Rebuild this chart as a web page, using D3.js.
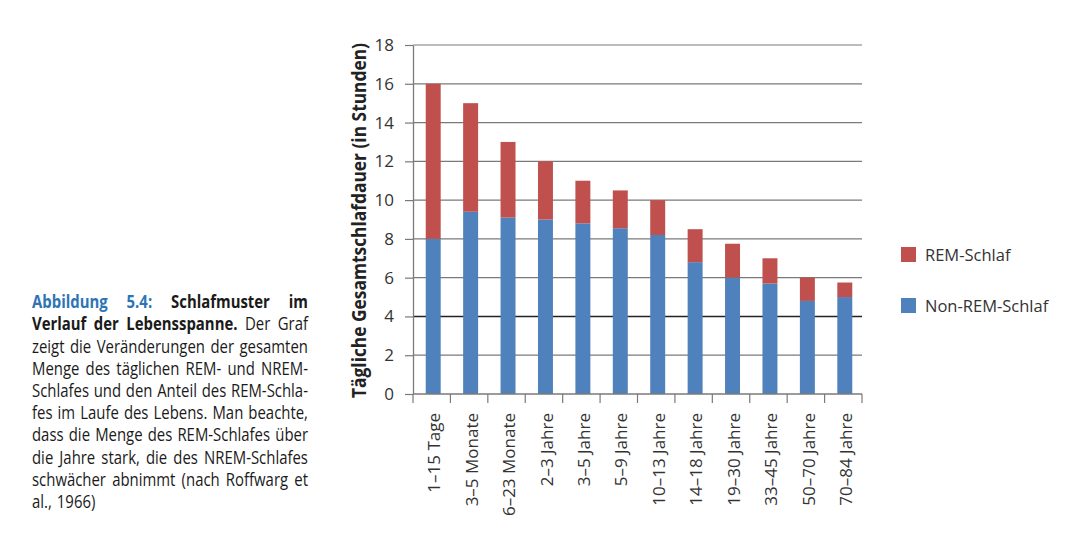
<!DOCTYPE html>
<html><head><meta charset="utf-8">
<script src="https://cdn.jsdelivr.net/npm/d3@7"></script>
<style>
html,body{margin:0;padding:0;background:#fff;}
svg{display:block;}
text{font-family:"Open Sans","Noto Sans",sans-serif;}
</style></head>
<body>
<svg id="c" width="1072" height="554"></svg>
<script>
const categories = ["1–15 Tage","3–5 Monate","6–23 Monate","2–3 Jahre","3–5 Jahre","5–9 Jahre","10–13 Jahre","14–18 Jahre","19–30 Jahre","33–45 Jahre","50–70 Jahre","70–84 Jahre"];
const nonRem = [8.0, 9.4, 9.1, 9.0, 8.8, 8.55, 8.2, 6.8, 6.0, 5.7, 4.8, 5.0];
const rem    = [8.0, 5.6, 3.9, 3.0, 2.2, 1.95, 1.8, 1.7, 1.75, 1.3, 1.2, 0.75];
const seriesNames = ["REM-Schlaf","Non-REM-Schlaf"];
const yTicks = [0,2,4,6,8,10,12,14,16,18];
const yTitle = "Tägliche Gesamtschlafdauer (in Stunden)";
const captionLines = [
  [["Abbildung","hb"],["5.4:","hb"],["Schlafmuster","b"],["im","b"]],
  [["Verlauf","b"],["der","b"],["Lebensspanne.","b"],["Der","r"],["Graf","r"]],
  [["zeigt","r"],["die","r"],["Veränderungen","r"],["der","r"],["gesamten","r"]],
  [["Menge","r"],["des","r"],["täglichen","r"],["REM-","r"],["und","r"],["NREM-","r"]],
  [["Schlafes","r"],["und","r"],["den","r"],["Anteil","r"],["des","r"],["REM-Schla-","r"]],
  [["fes","r"],["im","r"],["Laufe","r"],["des","r"],["Lebens.","r"],["Man","r"],["beachte,","r"]],
  [["dass","r"],["die","r"],["Menge","r"],["des","r"],["REM-Schlafes","r"],["über","r"]],
  [["die","r"],["Jahre","r"],["stark,","r"],["die","r"],["des","r"],["NREM-Schlafes","r"]],
  [["schwächer","r"],["abnimmt","r"],["(nach","r"],["Roffwarg","r"],["et","r"]],
  [["al.,","r"],["1966)","r"]]
];

(function(){
const colors = {rem:"#C0504D", non:"#4F81BD"};
const svg = d3.select("#c");
const pL = 413, pR = 862, pT = 45, pB = 394;

const x = d3.scaleBand().domain(categories).range([pL+1.5, pR+1.5]).paddingInner(0.6).paddingOuter(0.3);
const y = d3.scaleLinear().domain([0,18]).range([pB, pT]);

// gridlines
svg.append("g").selectAll("line").data(yTicks.filter(d=>d>0)).join("line")
  .attr("x1", pL).attr("x2", pR)
  .attr("y1", d=>y(d)).attr("y2", d=>y(d))
  .attr("stroke", d=> d===4 ? "#222" : "#7a7a7a")
  .attr("stroke-width", d=> d===4 ? 1.6 : 1.2);

// bars
const data = categories.map((c,i)=>({c, non:nonRem[i], rem:rem[i]}));
const stack = d3.stack().keys(["non","rem"])(data);
svg.append("g").selectAll("g").data(stack).join("g")
  .attr("fill", s=> s.key==="rem" ? colors.rem : colors.non)
  .selectAll("rect").data(s=>s).join("rect")
  .attr("x", d=>x(d.data.c)).attr("width", x.bandwidth())
  .attr("y", d=>y(d[1])).attr("height", d=>y(d[0])-y(d[1]));

// y axis
const yAxis = svg.append("g").attr("transform",`translate(${pL},0)`)
  .call(d3.axisLeft(y).tickValues(yTicks).tickSize(8).tickPadding(11).tickSizeOuter(0));
yAxis.select(".domain").attr("stroke","#7a7a7a").attr("stroke-width",1.3);
yAxis.selectAll(".tick line").attr("stroke","#7a7a7a").attr("stroke-width",1.2);
yAxis.selectAll(".tick text").attr("font-size",17).attr("fill","#333")
  .style("font-family",'"Open Sans","Noto Sans",sans-serif');

// x axis
const xAxis = svg.append("g").attr("transform",`translate(0,${pB})`)
  .call(d3.axisBottom(x).tickSize(0).tickSizeOuter(0));
xAxis.select(".domain").attr("stroke","#7a7a7a").attr("stroke-width",1.3).attr("d",`M${pL},0H${pR}`);
xAxis.selectAll(".tick line").remove();
xAxis.selectAll(".tick text")
  .attr("transform","rotate(-90)")
  .attr("text-anchor","end")
  .attr("x",-19).attr("y",0).attr("dy","0.42em")
  .attr("font-size",17).attr("fill","#333")
  .style("font-family",'"Open Sans","Noto Sans",sans-serif');
// boundary ticks
const bounds = d3.range(categories.length+1).map(i=> pL + i*(pR-pL)/categories.length);
svg.append("g").selectAll("line").data(bounds).join("line")
  .attr("x1",d=>d).attr("x2",d=>d).attr("y1",pB).attr("y2",pB+9)
  .attr("stroke","#7a7a7a").attr("stroke-width",1.2);

// y title
const yt = svg.append("text")
  .attr("transform",`translate(366,${(pT+pB)/2 + 1}) rotate(-90)`)
  .attr("text-anchor","middle")
  .attr("font-size",19).attr("font-weight","bold").attr("fill","#222")
  .text(yTitle);
const tl = yt.node().getComputedTextLength();
if (Math.abs(tl-355) > 3) yt.attr("textLength",355).attr("lengthAdjust","spacingAndGlyphs");

// legend
const leg = svg.append("g");
[["rem",seriesNames[0],247],["non",seriesNames[1],298]].forEach(([k,name,yy])=>{
  leg.append("rect").attr("x",901).attr("y",yy).attr("width",15).attr("height",15).attr("fill",colors[k]);
  leg.append("text").attr("x",925).attr("y",yy+14).attr("font-size",16.5).attr("fill","#333").text(name);
});

// caption (justified)
const capX = 32, capW = 276, base0 = 308.3, lh = 22.2;
const cap = svg.append("g");
const measured = captionLines.map((line,li)=>{
  return line.map(([t,s])=>{
    const el = cap.append("text").attr("font-size",17.5)
      .attr("font-weight", s.includes("b") ? "bold":"normal")
      .attr("fill", s.includes("h") ? "#2E74B5" : "#1a1a1a")
      .attr("y", base0 + li*lh).text(t);
    return {el, w: el.node().getComputedTextLength()};
  });
});
let sx = 1;
measured.forEach((ws,li)=>{
  if (li===measured.length-1) return;
  const need = d3.sum(ws,d=>d.w) + (ws.length-1)*5.5;
  sx = Math.min(sx, capW/need);
});
cap.attr("transform",`translate(${capX},0) scale(${sx},1)`);
const W = capW/sx;
measured.forEach((ws,li)=>{
  const tot = d3.sum(ws,d=>d.w);
  const last = li===measured.length-1;
  const gap = last ? 5/sx : (W - tot)/(ws.length-1);
  let cx = 0;
  ws.forEach(d=>{ d.el.attr("x", cx); cx += d.w + gap; });
});
})();
</script>
</body></html>
